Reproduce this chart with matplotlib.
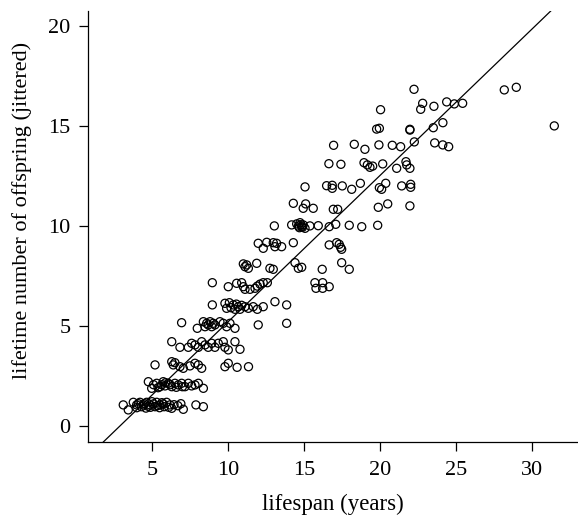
import numpy as np
import matplotlib
matplotlib.use("Agg")
import matplotlib.pyplot as plt

# points, grouped by (jittered) offspring count
kids_1 = [(3.11, 1.04), (3.44, 0.79), (3.77, 1.17), (3.99, 1.04), (4.21, 1.17), (4.43, 1.04),
          (4.65, 1.17), (4.87, 1.04), (5.09, 1.09), (5.31, 1.17), (5.53, 1.04), (5.74, 1.09),
          (5.96, 1.17), (6.18, 1.04), (6.30, 0.87), (7.06, 0.82), (7.89, 1.04), (8.38, 0.95),
          (4.00, 0.90), (4.30, 0.95), (4.60, 0.88), (4.90, 0.92), (5.20, 0.95), (5.50, 0.90),
          (5.80, 0.95), (6.10, 0.92), (4.10, 1.10), (4.50, 1.10), (4.75, 0.97), (5.00, 1.20),
          (5.35, 1.00), (5.65, 1.15), (6.45, 1.05), (6.70, 1.00), (6.90, 1.10)]
kids_2 = [(4.76, 2.20), (4.98, 1.87), (5.31, 2.12), (5.53, 1.95), (5.74, 2.20), (5.86, 1.99),
          (6.07, 2.12), (6.30, 1.95), (6.51, 2.12), (6.73, 2.04), (6.95, 2.12), (7.17, 1.95),
          (7.39, 2.12), (7.61, 1.99), (7.83, 2.04), (8.05, 2.12), (8.38, 1.87), (5.10, 2.05),
          (5.40, 1.90), (5.65, 2.05), (6.20, 2.05), (6.60, 1.92), (7.00, 1.95), (5.90, 2.15)]
kids_3 = [(5.20, 3.04), (6.30, 3.20), (6.40, 3.04), (6.51, 3.15), (6.84, 2.95), (7.06, 2.87),
          (7.50, 2.99), (7.83, 3.12), (8.05, 3.04), (8.27, 2.87), (9.80, 2.95), (10.02, 3.12),
          (10.60, 2.92), (11.35, 2.95)]
kids_4 = [(6.30, 4.20), (6.84, 3.92), (7.39, 3.92), (7.61, 4.12), (7.83, 4.04), (8.05, 3.92),
          (8.27, 4.20), (8.49, 4.04), (8.70, 3.92), (8.93, 4.12), (9.14, 3.92), (9.36, 4.12),
          (9.69, 4.20), (9.80, 3.92), (10.02, 3.79), (10.46, 4.20), (10.79, 3.82)]
kids_5 = [(6.95, 5.15), (7.98, 4.87), (8.38, 5.20), (8.49, 4.95), (8.60, 5.12), (8.70, 5.04),
          (8.82, 5.20), (8.93, 4.95), (9.03, 5.12), (9.14, 5.04), (9.47, 5.20), (9.69, 5.12),
          (9.91, 4.95), (10.13, 5.12), (10.46, 4.87), (11.99, 5.04), (13.86, 5.12)]
kids_6 = [(8.97, 6.04), (9.80, 6.12), (9.91, 5.87), (10.09, 6.15), (10.35, 6.04), (10.46, 5.82),
          (10.68, 5.95), (10.79, 5.82), (11.12, 5.95), (11.34, 5.87), (11.66, 5.95), (11.93, 5.82),
          (12.32, 5.95), (13.09, 6.20), (13.86, 6.04), (10.20, 5.90), (10.55, 6.08), (10.90, 6.02)]
kids_7 = [(8.97, 7.15), (10.02, 6.95), (10.57, 7.12), (10.90, 7.15), (11.01, 6.95), (11.12, 6.82),
          (11.45, 6.82), (11.78, 6.87), (11.93, 6.98), (12.11, 7.08), (12.32, 7.15), (12.59, 7.15),
          (15.72, 7.15), (16.23, 7.15), (15.79, 6.87), (16.23, 6.87), (16.66, 6.95)]
kids_8 = [(11.01, 8.09), (11.12, 7.95), (11.23, 8.04), (11.34, 7.87), (11.89, 8.12), (12.76, 7.87),
          (12.98, 7.82), (14.41, 8.15), (14.63, 7.87), (14.85, 7.92), (16.20, 7.82), (17.48, 8.15),
          (17.98, 7.82)]
kids_9 = [(11.99, 9.12), (12.32, 8.87), (12.55, 9.17), (12.98, 9.15), (13.09, 8.95), (13.20, 9.12),
          (13.53, 8.95), (14.30, 9.15), (16.66, 9.04), (17.15, 9.15), (17.32, 9.07), (17.41, 8.92),
          (17.48, 8.82)]
kids_10 = [(13.05, 9.99), (14.19, 10.04), (14.52, 10.09), (14.74, 10.15), (14.85, 9.95),
           (14.95, 10.04), (15.07, 9.87), (15.39, 9.99), (15.94, 10.00), (16.66, 9.95),
           (17.09, 10.07), (17.98, 10.02), (18.80, 9.95), (19.85, 10.02), (14.63, 9.98),
           (14.80, 10.05), (14.90, 9.92), (14.70, 9.90)]
kids_11 = [(21.97, 10.99), (14.30, 11.12), (14.95, 10.87), (15.11, 11.09), (15.61, 10.87),
           (16.93, 10.82), (17.22, 10.82), (19.89, 10.92), (20.51, 11.09)]
kids_12 = [(21.43, 11.99), (22.02, 12.07), (22.02, 11.92), (15.07, 11.94), (16.49, 12.00),
           (16.86, 12.02), (16.86, 11.87), (17.52, 11.99), (18.14, 11.82), (18.71, 12.12),
           (19.96, 11.90), (20.11, 11.82), (20.38, 12.12)]
kids_13 = [(18.95, 13.15), (19.17, 13.04), (19.34, 12.92), (19.52, 12.98), (20.18, 13.09),
           (21.71, 13.20), (21.76, 13.04), (21.97, 12.87), (21.10, 12.87), (16.64, 13.10),
           (17.43, 13.07)]
kids_14 = [(19.01, 13.82), (19.93, 14.04), (20.81, 14.02), (21.36, 13.95), (22.26, 14.19),
           (23.60, 14.14), (24.13, 14.04), (24.52, 13.95), (16.95, 14.02), (18.31, 14.07)]
kids_15 = [(19.78, 14.83), (19.96, 14.87), (21.97, 14.82), (21.97, 14.78), (24.14, 15.15),
           (23.51, 14.90), (31.47, 14.99)]
kids_16 = [(22.24, 16.82), (22.81, 16.12), (22.68, 15.82), (23.55, 15.97), (24.39, 16.19),
           (24.89, 16.09), (25.44, 16.12), (28.18, 16.79), (28.97, 16.92), (20.04, 15.80)]

fit_intercept = -2.13
fit_slope = 0.732

x_ticks = [5, 10, 15, 20, 25, 30]
y_ticks = [0, 5, 10, 15, 20]

bands = [kids_1, kids_2, kids_3, kids_4, kids_5, kids_6, kids_7, kids_8,
         kids_9, kids_10, kids_11, kids_12, kids_13, kids_14, kids_15, kids_16]
pts = np.array([p for band in bands for p in band])

plt.rcParams["font.family"] = ["Liberation Serif", "DejaVu Serif"]

fig = plt.figure(figsize=(5.78, 5.18), dpi=100)
ax = fig.add_axes([88 / 578, 76 / 518, 490 / 578, 431.3 / 518])

ax.scatter(pts[:, 0], pts[:, 1], s=34, facecolors="none", edgecolors="black", linewidths=0.9, zorder=3)
ax.axline((0, fit_intercept), slope=fit_slope, color="black", lw=0.9, zorder=2)

ax.set_xlim(0.79, 33.03)
ax.set_ylim(-0.815, 20.75)
ax.set_xticks(x_ticks)
ax.set_yticks(y_ticks)
ax.tick_params(direction="out", length=6.7, width=0.9, labelsize=16, colors="black")
ax.tick_params(axis="x", pad=7)
ax.tick_params(axis="y", pad=6)
for side in ["top", "right"]:
    ax.spines[side].set_visible(False)
for side in ["left", "bottom"]:
    ax.spines[side].set_linewidth(0.9)

ax.set_xlabel("lifespan (years)", fontsize=16.5, labelpad=10)
ax.set_ylabel("lifetime number of offspring (jittered)", fontsize=16)
ax.yaxis.set_label_coords(-0.114, 0.538)

fig.savefig("out.png", dpi=100)
